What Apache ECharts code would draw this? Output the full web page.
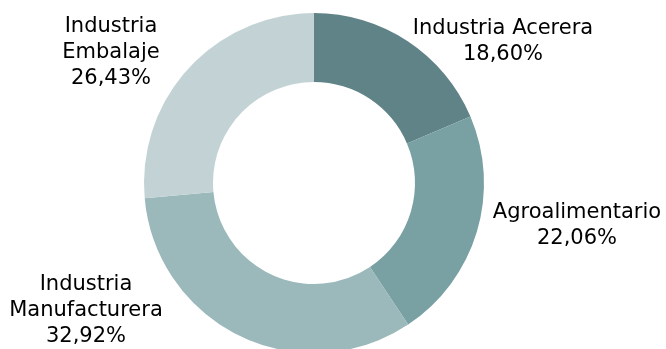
<!DOCTYPE html>
<html>
<head>
<meta charset="utf-8">
<script src="https://cdn.jsdelivr.net/npm/echarts@6/dist/echarts.min.js"></script>
<style>
html,body{margin:0;padding:0;background:#fff;}
#chart{width:666px;height:349px;}
</style>
</head>
<body>
<div id="chart"></div>
<script>
const categories = ["Industria Acerera", "Agroalimentario", "Industria\nManufacturera", "Industria\nEmbalaje"];
const values = [18.60, 22.06, 32.92, 26.43];
const colors = ["#5f8387", "#79a0a3", "#9bb8bb", "#c3d3d5"];

// label anchor positions (text layout only)
const labelAnchors = [[503, 42], [577, 226], [86, 311], [111, 53]];

const chart = echarts.init(document.getElementById('chart'));
chart.setOption({
  animation: false,
  series: [{
    type: 'pie',
    center: [314, 183],
    radius: [101, 170],
    startAngle: 90,
    clockwise: true,
    avoidLabelOverlap: false,
    data: categories.map((c, i) => ({ name: c, value: values[i], itemStyle: { color: colors[i] } })),
    label: {
      show: true,
      position: 'outside',
      color: '#000',
      fontFamily: 'DejaVu Sans',
      fontSize: 21,
      lineHeight: 26,
      align: 'center',
      formatter: p => p.name + '\n' + p.value.toFixed(2).replace('.', ',') + '%'
    },
    labelLine: { show: false },
    labelLayout: function (params) {
      const a = labelAnchors[params.dataIndex];
      return { x: a[0], y: a[1], align: 'center', verticalAlign: 'middle' };
    },
    emphasis: { disabled: true }
  }]
});
</script>
</body>
</html>
